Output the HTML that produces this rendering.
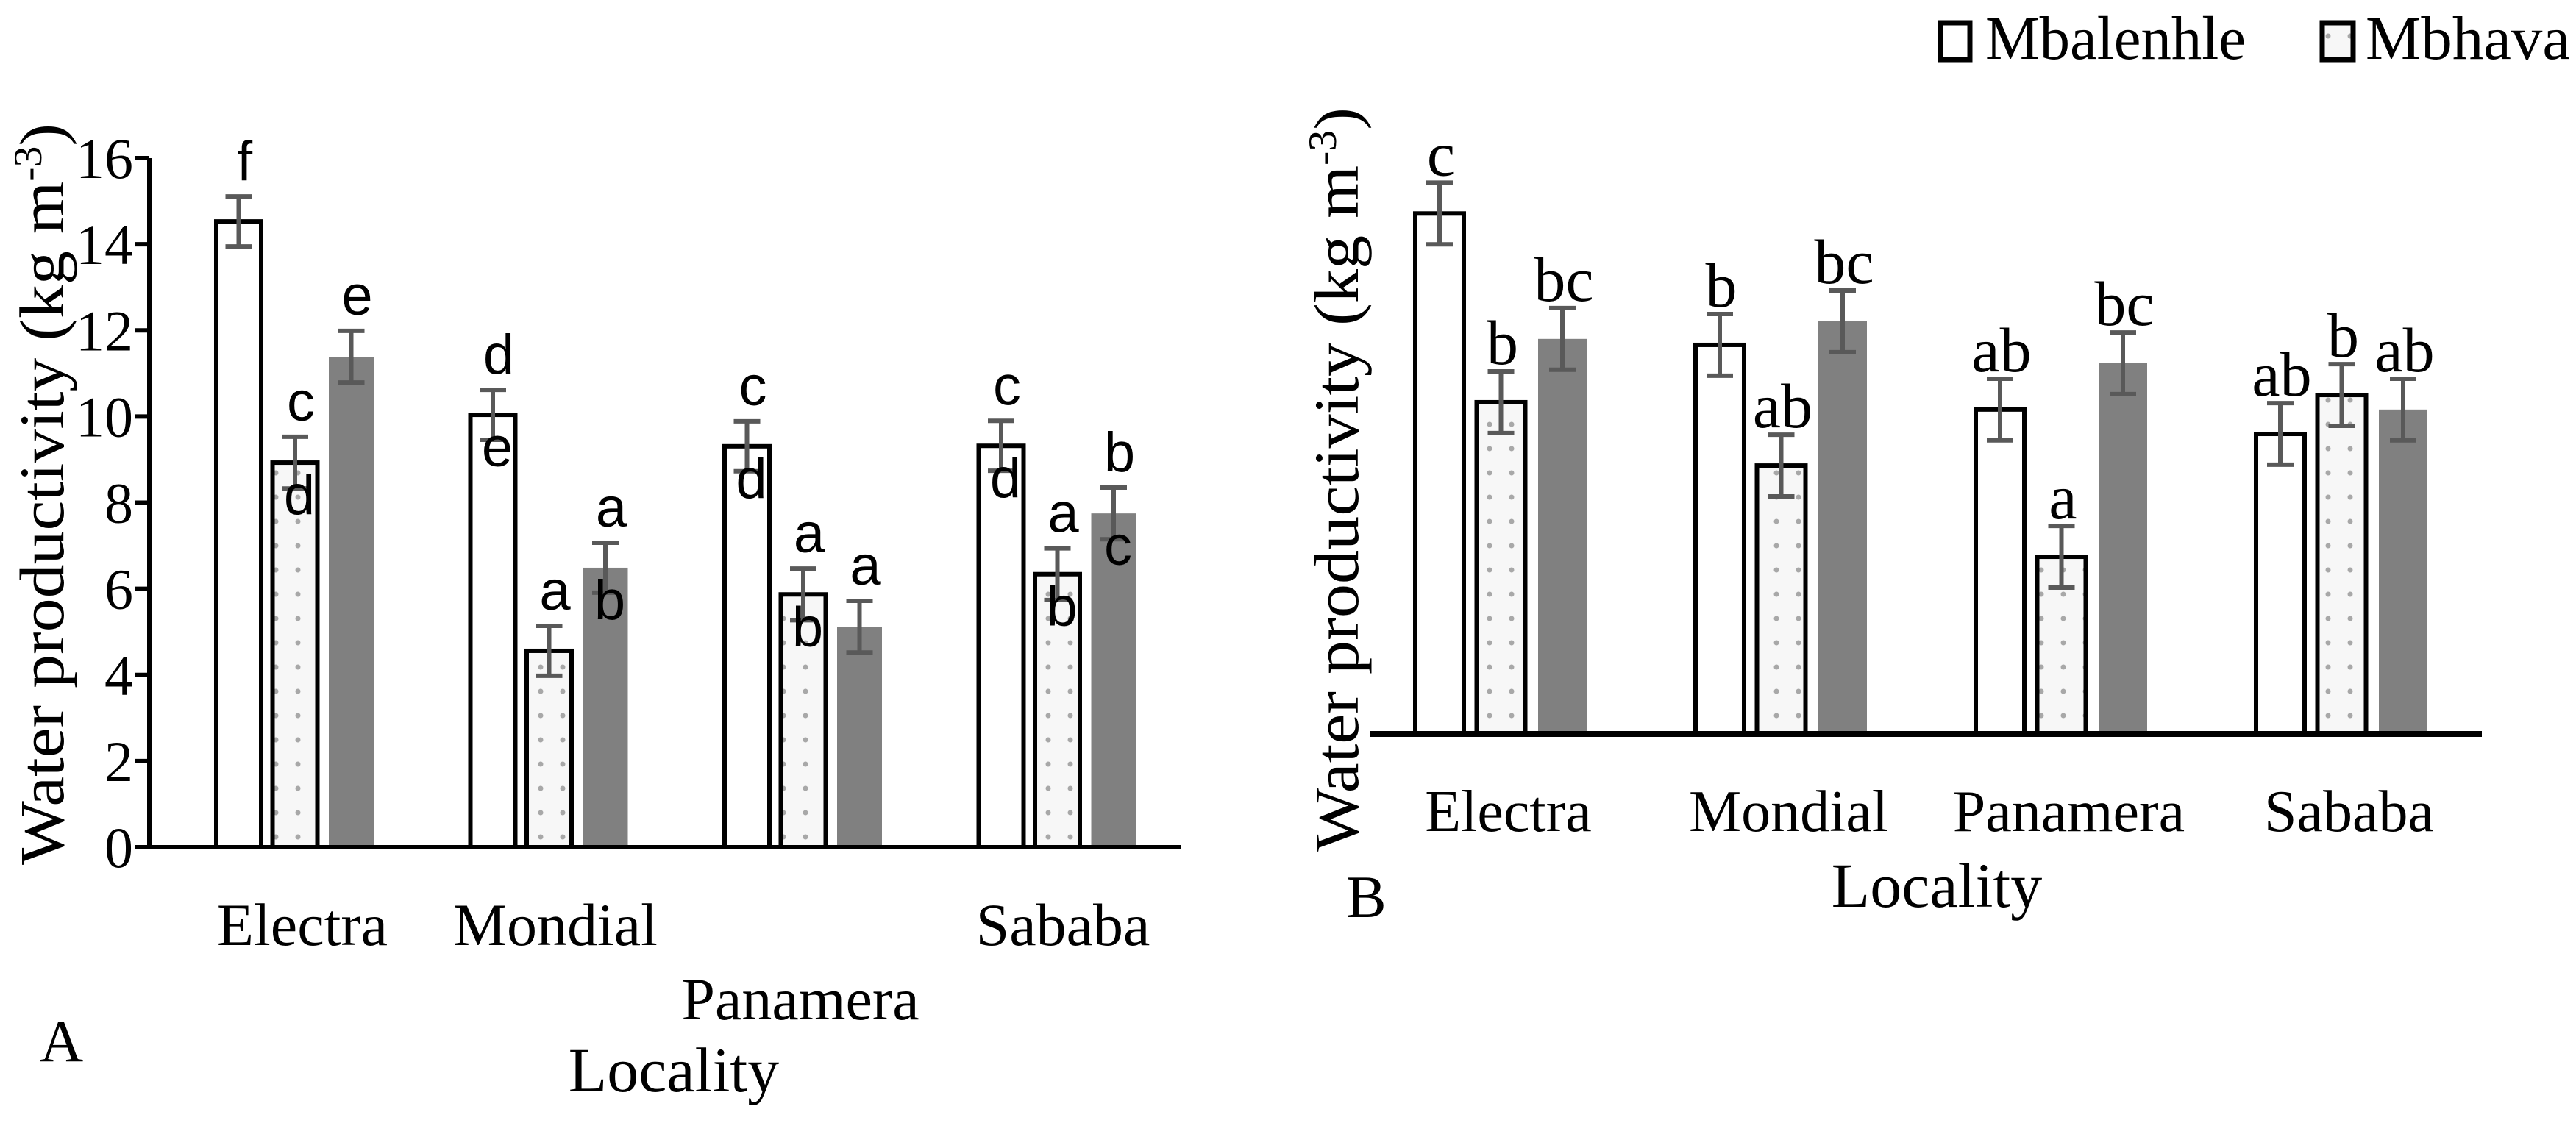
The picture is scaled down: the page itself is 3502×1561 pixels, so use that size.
<!DOCTYPE html>
<html><head><meta charset="utf-8"><style>html,body{margin:0;padding:0;background:#fff}svg{display:block}</style></head>
<body>
<svg id="chart" width="3502" height="1561" viewBox="0 0 3502 1561" xmlns="http://www.w3.org/2000/svg">
<defs>
<pattern id="dots" width="30" height="33" patternUnits="userSpaceOnUse">
<rect width="30" height="33" fill="#f7f7f7"/>
<circle cx="15" cy="16" r="3.5" fill="#a8a8a8"/>
</pattern>
</defs>
<g id="panelA"></g>
<g id="panelB"></g>
<g>
<rect x="2638" y="31" width="40" height="50" fill="#fff" stroke="#000" stroke-width="7"/>
<text x="2699" y="80" font-family="Liberation Serif, serif" font-size="84" textLength="354" lengthAdjust="spacingAndGlyphs">Mbalenhle</text>
<rect x="3157" y="31" width="42" height="50" fill="url(#dots)" stroke="#000" stroke-width="7"/>
<text x="3216" y="80" font-family="Liberation Serif, serif" font-size="84" textLength="278" lengthAdjust="spacingAndGlyphs">Mbhava</text>
</g>
</svg>
<script>
const categories = ["Electra", "Mondial", "Panamera", "Sababa"];
const aMbalenhle = [14.53, 10.04, 9.31, 9.32];
const aMbhava = [8.93, 4.56, 5.87, 6.34];
const aThird = [11.39, 6.49, 5.12, 7.75];
const aErr = [[0.58, 0.6, 0.6], [0.58, 0.58, 0.58], [0.58, 0.6, 0.6], [0.58, 0.6, 0.6]];
const aLabelsAbove = [["f", "c", "e"], ["d", "a", "a"], ["c", "a", "a"], ["c", "a", "b"]];
const aLabelsBelow = [["", "d", ""], ["e", "", "b"], ["d", "b", ""], ["d", "b", "c"]];
const yTicks = [0, 2, 4, 6, 8, 10, 12, 14, 16];
const bMbalenhle = [12.16, 9.09, 7.58, 7.01];
const bMbhava = [7.75, 6.27, 4.14, 7.92];
const bThird = [9.23, 9.64, 8.66, 7.58];
const bErr = [[0.72, 0.72, 0.72], [0.72, 0.72, 0.72], [0.72, 0.72, 0.72], [0.72, 0.72, 0.72]];
const bLabels = [["c", "b", "bc"], ["b", "ab", "bc"], ["ab", "a", "bc"], ["ab", "b", "ab"]];

const NS = "http://www.w3.org/2000/svg";
function mk(parent, tag, attrs, text) {
  const e = document.createElementNS(NS, tag);
  for (const k in attrs) e.setAttribute(k, attrs[k]);
  if (text !== undefined) e.textContent = text;
  parent.appendChild(e);
  return e;
}
const fills = ["#fff", "url(#dots)", "#808080"];
const seriesNames = ["mbalenhle", "mbhava", "third"];

// Panel A
const A = {x0: 203, y0: 1152, unit: 58.56, g0: 294, gStep: 345.5, bStep: 76.5, bw: 61};
const yA = v => A.y0 - v * A.unit;
const gA = document.getElementById("panelA");
const aSeries = [aMbalenhle, aMbhava, aThird];
yTicks.forEach(t => {
  const tk = mk(gA, "line", {x1: A.x0 - 20, x2: A.x0, y1: yA(t), y2: yA(t), stroke: "#000", "stroke-width": 6});
  
  
  const tl = mk(gA, "text", {x: A.x0 - 22, y: yA(t) + 27, "text-anchor": "end", "font-family": "Liberation Serif, serif", "font-size": 78}, String(t));
  
  
});
categories.forEach((c, i) => {
  aSeries.forEach((s, j) => {
    const x = A.g0 + i * A.gStep + j * A.bStep;
    const r = mk(gA, "rect", {x: x, y: yA(s[i]), width: A.bw, height: A.y0 - yA(s[i]), fill: fills[j], stroke: j < 2 ? "#000" : "none", "stroke-width": 6});
    
    
    const cx = x + A.bw / 2, e = aErr[i][j];
    const eb = mk(gA, "path", {d: `M${cx},${yA(s[i] + e)}V${yA(s[i] - e)}M${cx - 18},${yA(s[i] + e)}h36M${cx - 18},${yA(s[i] - e)}h36`, stroke: "#595959", "stroke-width": 6, fill: "none"});
    
    
    if (aLabelsAbove[i][j]) {
      const t = mk(gA, "text", {x: cx + 8, y: yA(s[i] + e) - 22, "text-anchor": "middle", "font-family": "Liberation Sans, sans-serif", "font-size": 76}, aLabelsAbove[i][j]);
      
      
    }
    if (aLabelsBelow[i][j]) {
      const t = mk(gA, "text", {x: cx + 6, y: yA(s[i]) + 70, "text-anchor": "middle", "font-family": "Liberation Sans, sans-serif", "font-size": 76}, aLabelsBelow[i][j]);
      
      
    }
  });
});
const axA = mk(gA, "path", {d: `M${A.x0},${yA(16)}V${A.y0}H1606`, stroke: "#000", "stroke-width": 6, fill: "none"});


const catPosA = [[411, 1285], [755, 1285], [1088, 1386], [1445, 1285]];
categories.forEach((c, i) => {
  const t = mk(gA, "text", {x: catPosA[i][0], y: catPosA[i][1], "text-anchor": "middle", "font-family": "Liberation Serif, serif", "font-size": 82}, c);
  
  
});
let t;
t = mk(gA, "text", {x: 916, y: 1484, "text-anchor": "middle", "font-family": "Liberation Serif, serif", "font-size": 86}, "Locality");


t = mk(gA, "text", {x: 54, y: 1443, "font-family": "Liberation Serif, serif", "font-size": 82}, "A");


t = mk(gA, "text", {x: 0, y: 0, transform: "translate(86,672) rotate(-90)", "text-anchor": "middle", "font-family": "Liberation Serif, serif", "font-size": 86, textLength: 1008, lengthAdjust: "spacingAndGlyphs"});
t.innerHTML = 'Water productivity (kg m<tspan dy="-30" font-size="54">-3</tspan><tspan dy="30">)</tspan>';



// Panel B
const B = {y0: 998, unit: 58.2, g0: 1924, gStep: 381, bStep: 83.5, bw: 66};
const yB = v => B.y0 - v * B.unit;
const gB = document.getElementById("panelB");
const bSeries = [bMbalenhle, bMbhava, bThird];
categories.forEach((c, i) => {
  bSeries.forEach((s, j) => {
    const x = B.g0 + i * B.gStep + j * B.bStep;
    const r = mk(gB, "rect", {x: x, y: yB(s[i]), width: B.bw, height: B.y0 - yB(s[i]), fill: fills[j], stroke: j < 2 ? "#000" : "none", "stroke-width": 6});
    
    
    const cx = x + B.bw / 2, e = bErr[i][j];
    const eb = mk(gB, "path", {d: `M${cx},${yB(s[i] + e)}V${yB(s[i] - e)}M${cx - 18},${yB(s[i] + e)}h36M${cx - 18},${yB(s[i] - e)}h36`, stroke: "#595959", "stroke-width": 6, fill: "none"});
    
    
    const lt = mk(gB, "text", {x: cx + 2, y: yB(s[i] + e) - 10, "text-anchor": "middle", "font-family": "Liberation Serif, serif", "font-size": 86}, bLabels[i][j]);
    
    
  });
  const ct = mk(gB, "text", {x: B.g0 + i * B.gStep + B.bStep + B.bw / 2 + 10, y: 1130, "text-anchor": "middle", "font-family": "Liberation Serif, serif", "font-size": 80}, c);
  
  
});
const axB = mk(gB, "line", {x1: 1862, x2: 3374, y1: B.y0, y2: B.y0, stroke: "#000", "stroke-width": 8});


t = mk(gB, "text", {x: 2633, y: 1233, "text-anchor": "middle", "font-family": "Liberation Serif, serif", "font-size": 86}, "Locality");


t = mk(gB, "text", {x: 1830, y: 1247, "font-family": "Liberation Serif, serif", "font-size": 82}, "B");


t = mk(gB, "text", {x: 0, y: 0, transform: "translate(1846,652) rotate(-90)", "text-anchor": "middle", "font-family": "Liberation Serif, serif", "font-size": 86, textLength: 1012, lengthAdjust: "spacingAndGlyphs"});
t.innerHTML = 'Water productivity (kg m<tspan dy="-30" font-size="54">-3</tspan><tspan dy="30">)</tspan>';


</script>
</body></html>
